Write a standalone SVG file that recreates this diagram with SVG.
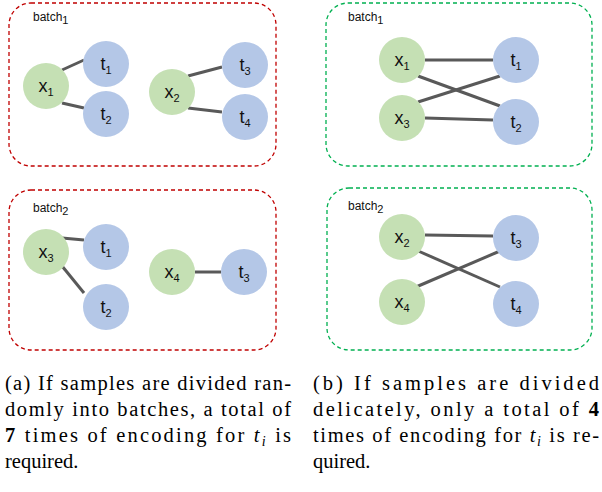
<svg xmlns="http://www.w3.org/2000/svg" width="602" height="492" viewBox="0 0 602 492">
<style>
.g{fill:#c5e0b4}.b{fill:#b4c7e7}
.n{font-family:"Liberation Sans",Arial,sans-serif;font-size:18px;fill:#111;text-anchor:middle}
.s{font-size:11px}
.bl{font-family:"Liberation Sans",Arial,sans-serif;font-size:12px;fill:#111}
.rb{fill:none;stroke:#c00000;stroke-width:1.3;stroke-dasharray:4 3}
.gb{fill:none;stroke:#00b050;stroke-width:1.3;stroke-dasharray:4 3}
.e line{stroke:#595959;stroke-width:3}
.c{font-family:"Liberation Serif","Times New Roman",serif;font-size:20.5px;fill:#000}
</style>
<g id="boxes">
<rect class="rb" x="9" y="3" width="267" height="163" rx="22"/>
<rect class="rb" x="9" y="190" width="267" height="160" rx="22"/>
<rect class="gb" x="326" y="3" width="266" height="163" rx="22"/>
<rect class="gb" x="327" y="188" width="265" height="162" rx="22"/>
<text class="bl" x="33" y="21">batch<tspan class="s" dy="3">1</tspan></text>
<text class="bl" x="33" y="212">batch<tspan class="s" dy="3">2</tspan></text>
<text class="bl" x="348" y="21">batch<tspan class="s" dy="3">1</tspan></text>
<text class="bl" x="348" y="210">batch<tspan class="s" dy="3">2</tspan></text>
</g>
<g id="connectors" class="e">
<line x1="62" y1="70" x2="84" y2="60"/><line x1="62" y1="103" x2="84" y2="108"/>
<line x1="188" y1="76" x2="222" y2="67"/><line x1="188" y1="108" x2="222" y2="112"/>
<line x1="62" y1="238" x2="84" y2="240"/><line x1="62" y1="266" x2="84" y2="293"/>
<line x1="195" y1="272" x2="221" y2="272"/>
<line x1="425" y1="60" x2="493" y2="60"/><line x1="418" y1="76" x2="500" y2="106"/>
<line x1="418" y1="102" x2="500" y2="76"/><line x1="425" y1="118" x2="493" y2="120"/>
<line x1="425" y1="235" x2="493" y2="236"/><line x1="416" y1="250" x2="500" y2="287"/>
<line x1="416" y1="287" x2="500" y2="251"/>
</g>
<g id="l-x1"><circle class="g" cx="46" cy="86" r="23"/><text class="n" x="46" y="92">x<tspan class="s" dy="4">1</tspan></text></g>
<g id="l-t1"><circle class="b" cx="106" cy="64" r="23"/><text class="n" x="106" y="70">t<tspan class="s" dy="4">1</tspan></text></g>
<g id="l-t2"><circle class="b" cx="106" cy="114" r="23"/><text class="n" x="106" y="120">t<tspan class="s" dy="4">2</tspan></text></g>
<g id="l-x2"><circle class="g" cx="172" cy="92" r="23"/><text class="n" x="172" y="98">x<tspan class="s" dy="4">2</tspan></text></g>
<g id="l-t3"><circle class="b" cx="245" cy="65" r="23"/><text class="n" x="245" y="71">t<tspan class="s" dy="4">3</tspan></text></g>
<g id="l-t4"><circle class="b" cx="245" cy="117" r="23"/><text class="n" x="245" y="123">t<tspan class="s" dy="4">4</tspan></text></g>
<g id="l-x3"><circle class="g" cx="46" cy="252" r="23"/><text class="n" x="46" y="258">x<tspan class="s" dy="4">3</tspan></text></g>
<g id="l-t1b"><circle class="b" cx="106" cy="247" r="23"/><text class="n" x="106" y="253">t<tspan class="s" dy="4">1</tspan></text></g>
<g id="l-t2b"><circle class="b" cx="106" cy="307" r="23"/><text class="n" x="106" y="313">t<tspan class="s" dy="4">2</tspan></text></g>
<g id="l-x4"><circle class="g" cx="172" cy="272" r="23"/><text class="n" x="172" y="278">x<tspan class="s" dy="4">4</tspan></text></g>
<g id="l-t3b"><circle class="b" cx="244" cy="272" r="23"/><text class="n" x="244" y="278">t<tspan class="s" dy="4">3</tspan></text></g>
<g id="r-x1"><circle class="g" cx="402" cy="60" r="23"/><text class="n" x="402" y="66">x<tspan class="s" dy="4">1</tspan></text></g>
<g id="r-t1"><circle class="b" cx="516" cy="60" r="23"/><text class="n" x="516" y="66">t<tspan class="s" dy="4">1</tspan></text></g>
<g id="r-x3"><circle class="g" cx="402" cy="118" r="23"/><text class="n" x="402" y="124">x<tspan class="s" dy="4">3</tspan></text></g>
<g id="r-t2"><circle class="b" cx="516" cy="122" r="23"/><text class="n" x="516" y="128">t<tspan class="s" dy="4">2</tspan></text></g>
<g id="r-x2"><circle class="g" cx="402" cy="237" r="23"/><text class="n" x="402" y="243">x<tspan class="s" dy="4">2</tspan></text></g>
<g id="r-t3"><circle class="b" cx="516" cy="238" r="23"/><text class="n" x="516" y="244">t<tspan class="s" dy="4">3</tspan></text></g>
<g id="r-x4"><circle class="g" cx="402" cy="302" r="23"/><text class="n" x="402" y="308">x<tspan class="s" dy="4">4</tspan></text></g>
<g id="r-t4"><circle class="b" cx="516" cy="304" r="23"/><text class="n" x="516" y="310">t<tspan class="s" dy="4">4</tspan></text></g>
<g id="captions">
<text class="c" x="5" y="390" textLength="286" lengthAdjust="spacing">(a) If samples are divided ran-</text>
<text class="c" x="5" y="416" textLength="286" lengthAdjust="spacing">domly into batches, a total of</text>
<text class="c" x="5" y="442" textLength="286" lengthAdjust="spacing"><tspan font-weight="bold">7</tspan> times of encoding for <tspan font-style="italic">t</tspan><tspan font-style="italic" font-size="14" dy="4">i</tspan><tspan dy="-4"> is</tspan></text>
<text class="c" x="5" y="468">required.</text>
<text class="c" x="313" y="390" textLength="286" lengthAdjust="spacing">(b) If samples are divided</text>
<text class="c" x="313" y="416" textLength="286" lengthAdjust="spacing">delicately, only a total of <tspan font-weight="bold">4</tspan></text>
<text class="c" x="313" y="442" textLength="286" lengthAdjust="spacing">times of encoding for <tspan font-style="italic">t</tspan><tspan font-style="italic" font-size="14" dy="4">i</tspan><tspan dy="-4"> is re-</tspan></text>
<text class="c" x="313" y="468">quired.</text>
</g>
</svg>
